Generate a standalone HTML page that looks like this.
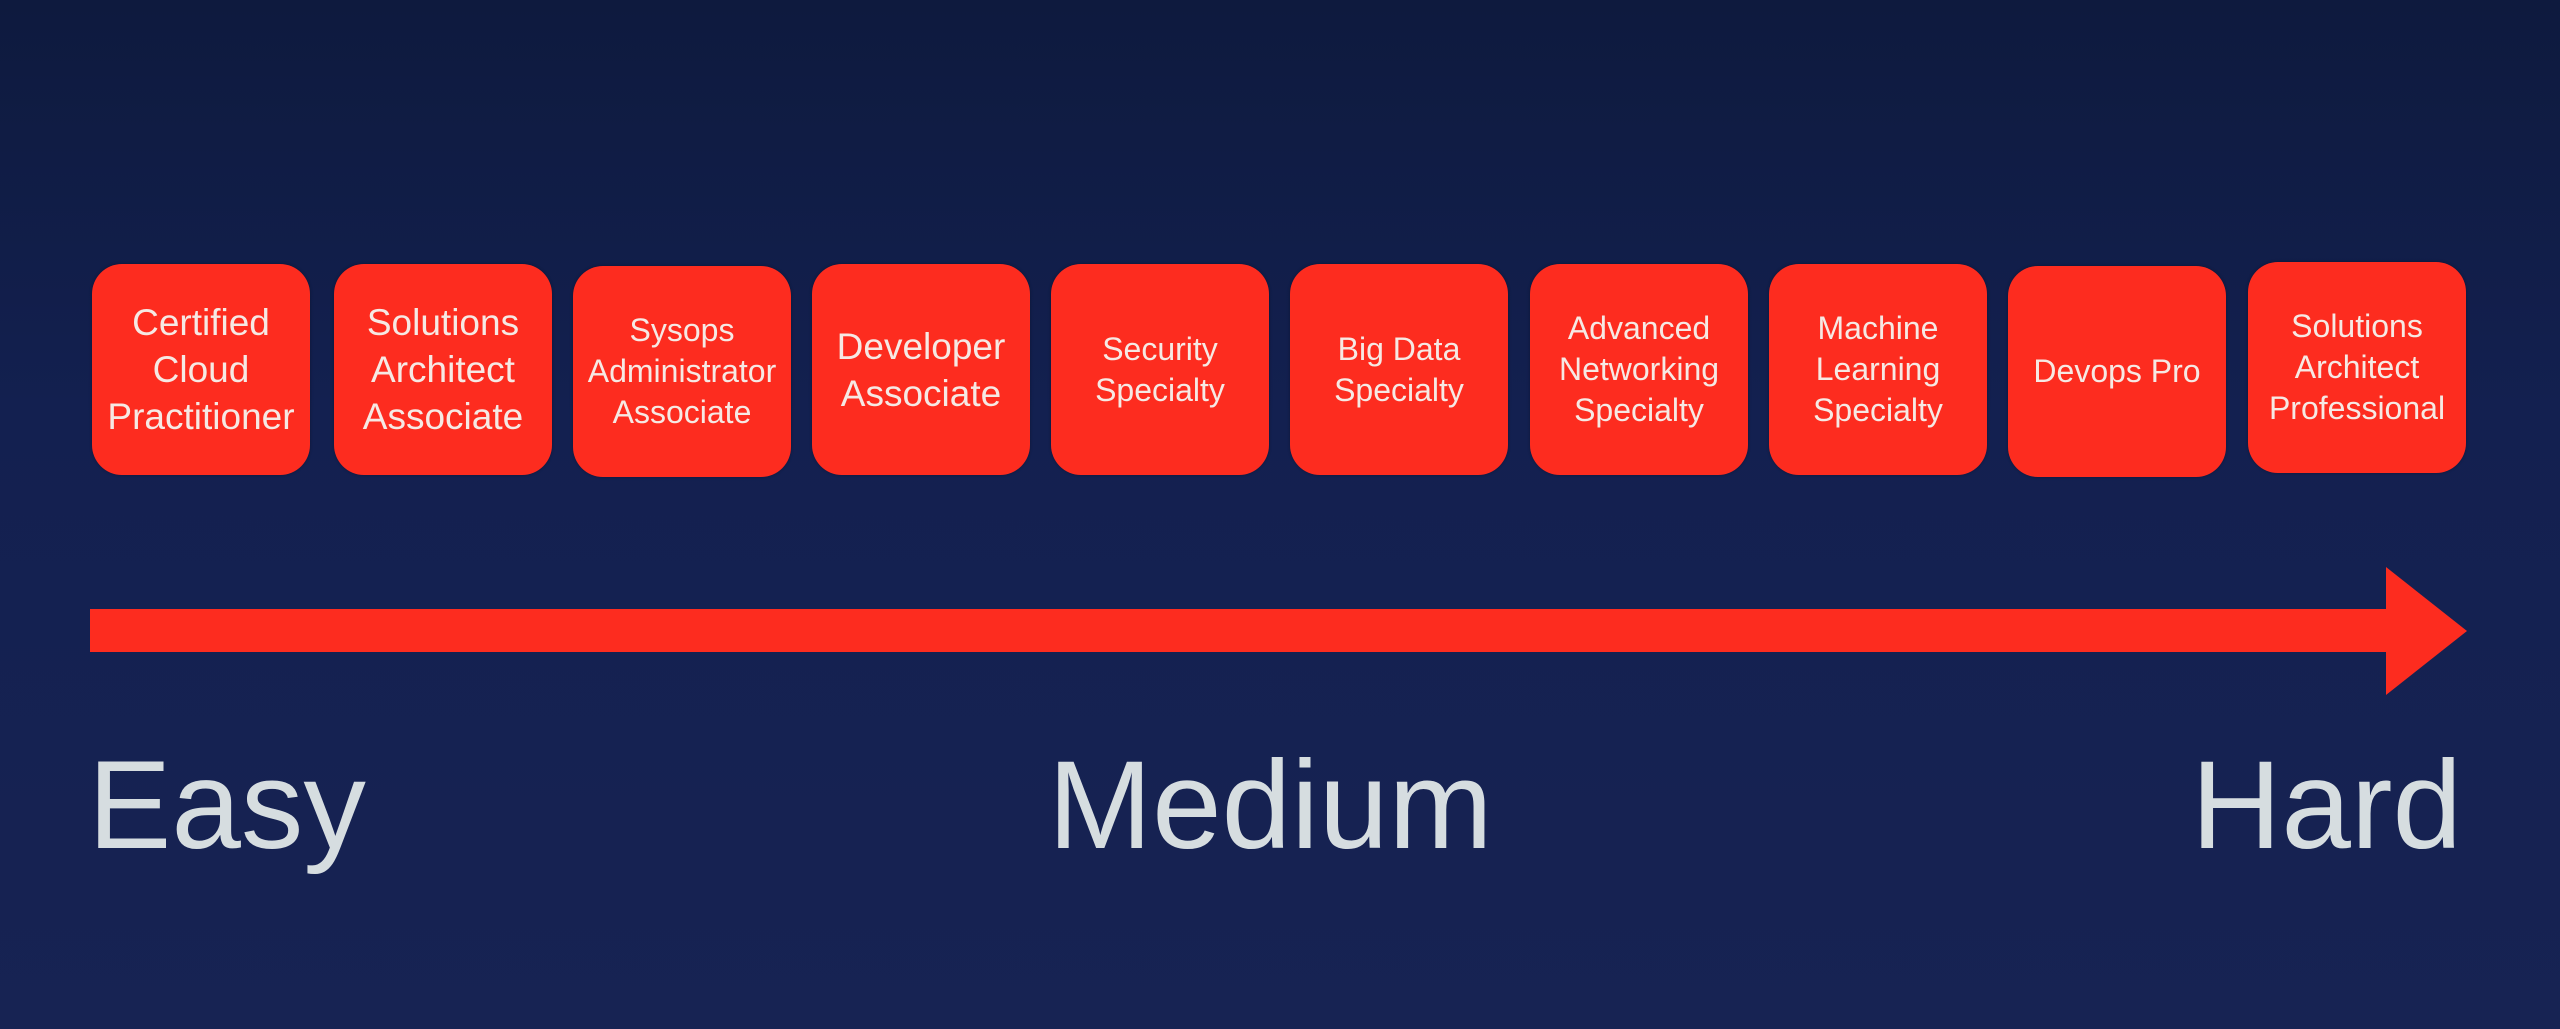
<!DOCTYPE html>
<html><head><meta charset="utf-8"><style>
html,body{margin:0;padding:0}
body{width:2560px;height:1029px;overflow:hidden;background:linear-gradient(#0e1a3e,#132050 40%,#172353);position:relative;font-family:"Liberation Sans",Arial,sans-serif}
.b{position:absolute;top:264px;width:218px;height:211px;background:#fd2c1f;border-radius:30px;display:flex;align-items:center;justify-content:center;text-align:center;color:#f6e9e4;font-size:32px;line-height:41px;box-shadow:0 0 3px rgba(0,0,0,.3)}
.l{font-size:37px;line-height:47px}
.t{position:absolute;color:#d6dde0;font-size:125px;line-height:1}
</style></head><body>
<div class="b l" style="left:92px">Certified<br>Cloud<br>Practitioner</div>
<div class="b l" style="left:334px">Solutions<br>Architect<br>Associate</div>
<div class="b" style="left:573px;top:266px">Sysops<br>Administrator<br>Associate</div>
<div class="b l" style="left:812px">Developer<br>Associate</div>
<div class="b" style="left:1051px">Security<br>Specialty</div>
<div class="b" style="left:1290px">Big Data<br>Specialty</div>
<div class="b" style="left:1530px">Advanced<br>Networking<br>Specialty</div>
<div class="b" style="left:1769px">Machine<br>Learning<br>Specialty</div>
<div class="b" style="left:2008px;top:266px">Devops Pro</div>
<div class="b" style="left:2248px;top:262px">Solutions<br>Architect<br>Professional</div>
<svg style="position:absolute;left:0;top:0" width="2560" height="1029">
<rect x="90" y="609" width="2300" height="43" fill="#fd2c1f"/>
<polygon points="2386,567 2467,631 2386,695" fill="#fd2c1f"/>
</svg>
<div class="t" style="left:88px;top:743px">Easy</div>
<div class="t" style="left:1048px;top:743px">Medium</div>
<div class="t" style="right:98px;top:743px">Hard</div>
</body></html>
